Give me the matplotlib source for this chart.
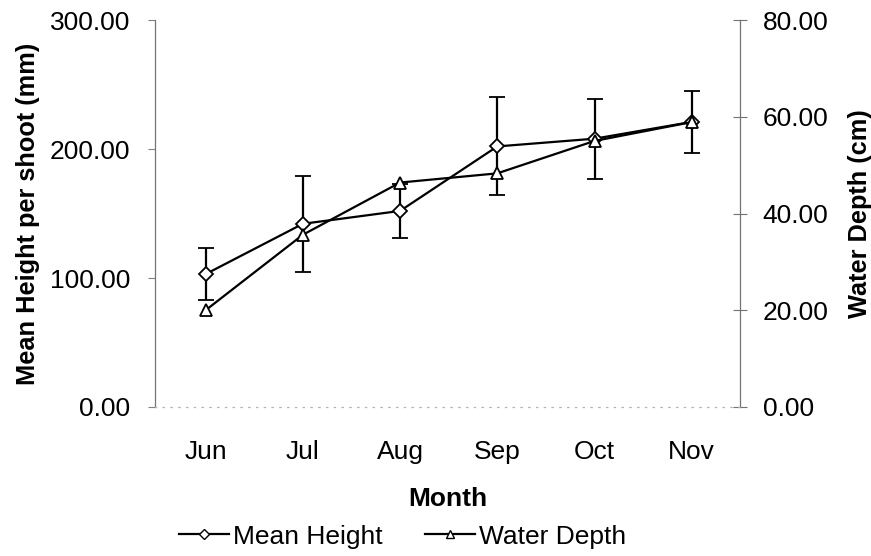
import numpy as np
import matplotlib
matplotlib.use("Agg")
import matplotlib.pyplot as plt
from matplotlib.lines import Line2D

plt.rcParams['font.family'] = ['Liberation Sans', 'DejaVu Sans']

# data
months = ["Jun", "Jul", "Aug", "Sep", "Oct", "Nov"]
mean_height = [103, 142, 152, 202, 208, 221]
height_err = [20, 37, 21, 38, 31, 24]
water_depth = [20.0, 35.6, 46.4, 48.3, 55.0, 58.9]

left_ticks = [0, 100, 200, 300]
right_ticks = [0, 20, 40, 60, 80]

fig = plt.figure(figsize=(8.71, 5.56), dpi=100)
ax1 = fig.add_axes([0.178, 0.268, 0.672, 0.696])
ax2 = ax1.twinx()

x = np.arange(len(months))

#mean height with error bars on the left axis
ax1.errorbar(x, mean_height, yerr=height_err, color='black', lw=1.6,
             marker='D', markersize=7.5, markerfacecolor='white',
             markeredgecolor='black', markeredgewidth=1.3,
             ecolor='black', elinewidth=1.6, capsize=6, capthick=1.8, zorder=3)

#water depth on the right axis
ax2.plot(x, water_depth, color='black', lw=1.6, marker='^', markersize=9,
         markerfacecolor='white', markeredgecolor='black', markeredgewidth=1.3,
         zorder=3)

ax1.set_xlim(-0.52, 5.5)
ax1.set_ylim(0, 300)
ax2.set_ylim(0, 80)

ax1.set_xticks(x)
ax1.set_xticklabels(months, fontsize=19)
ax1.set_yticks(left_ticks)
ax1.set_yticklabels(["%.2f" % v for v in left_ticks], fontsize=19)
ax2.set_yticks(right_ticks)
ax2.set_yticklabels(["%.2f" % v for v in right_ticks], fontsize=19)

ax1.tick_params(axis='x', length=0, pad=24)
ax1.tick_params(axis='y', direction='out', length=5, width=0.8, color='0.5', pad=13)
ax2.tick_params(axis='y', direction='inout', length=10, width=0.8, color='0.45', pad=11)

for ax in (ax1, ax2):
    ax.spines['top'].set_visible(False)
    ax.spines['left'].set_linestyle((0, (3, 1)))
    ax.spines['left'].set_color('0.45')
    ax.spines['left'].set_linewidth(0.9)
    ax.spines['right'].set_linestyle((0, (3, 1)))
    ax.spines['right'].set_color('0.45')
    ax.spines['right'].set_linewidth(0.9)
    ax.spines['bottom'].set_linestyle((0, (1, 6)))
    ax.spines['bottom'].set_color('0.7')
    ax.spines['bottom'].set_linewidth(0.8)
ax1.spines['right'].set_visible(False)
ax2.spines['left'].set_visible(False)

ax1.set_xlabel("Month", fontsize=19, fontweight='bold', labelpad=16)
ax1.set_ylabel("Mean Height per shoot (mm)", fontsize=18.3, fontweight='bold', labelpad=7)
ax2.set_ylabel("Water Depth (cm)", fontsize=18.3, fontweight='bold', labelpad=14)

handles = [
    Line2D([], [], color='black', lw=1.6, marker='D', markersize=5,
           markerfacecolor='white', markeredgecolor='black'),
    Line2D([], [], color='black', lw=1.6, marker='^', markersize=6,
           markerfacecolor='white', markeredgecolor='black'),
]
fig.legend(handles, ["Mean Height", "Water Depth"], loc='center',
           bbox_to_anchor=(0.462, 0.035), ncol=2, frameon=False, fontsize=19,
           handlelength=1.9, handletextpad=0.15, columnspacing=1.6)

fig.savefig("out.png", dpi=100)
